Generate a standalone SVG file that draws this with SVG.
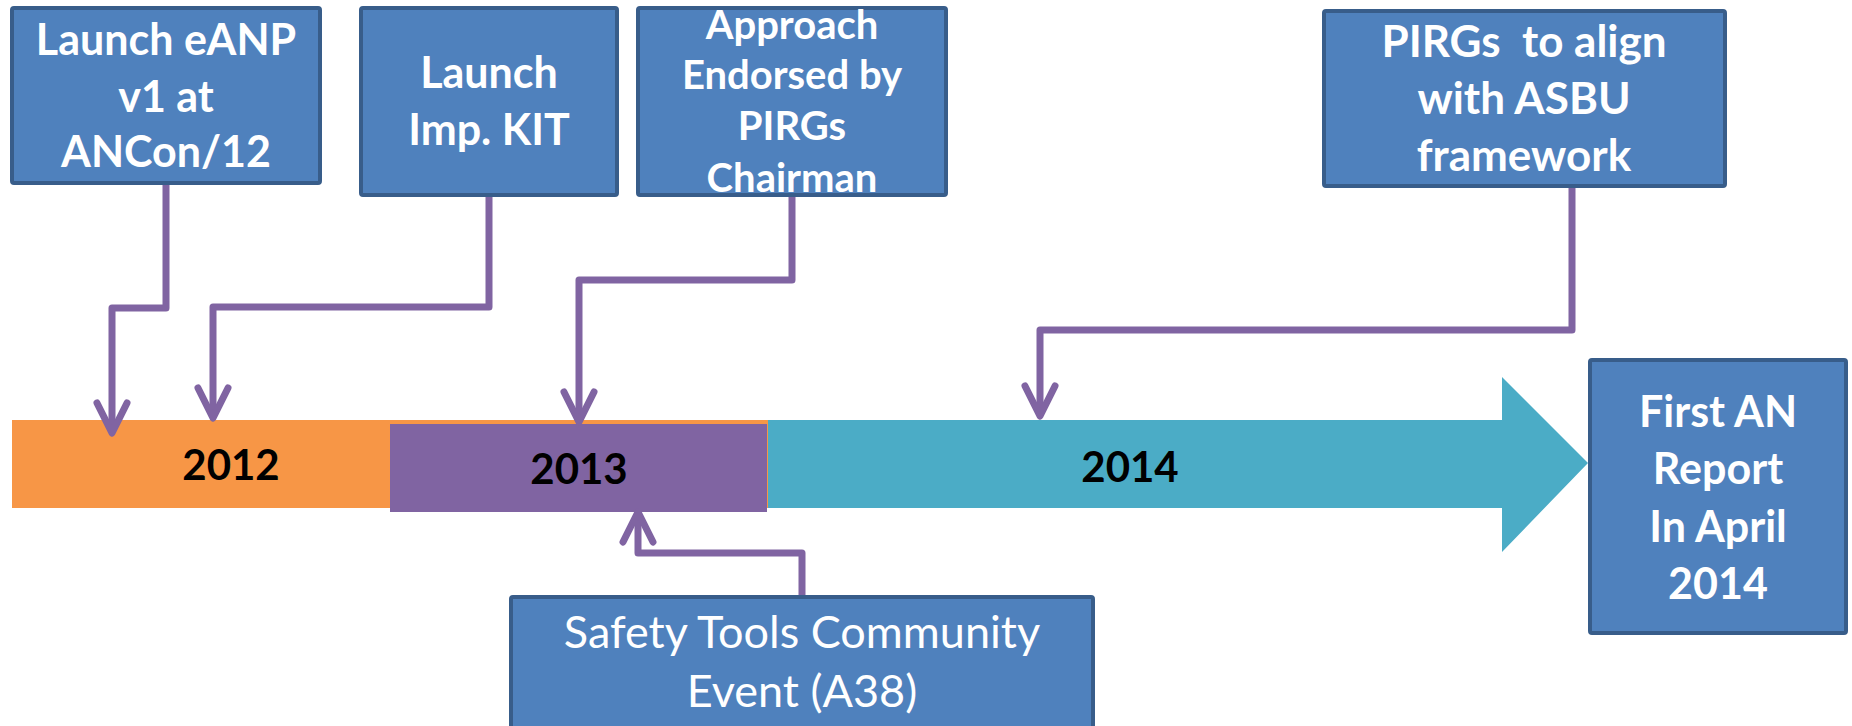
<svg xmlns="http://www.w3.org/2000/svg" width="1852" height="726" viewBox="0 0 1852 726">
<defs>
<style>
.box{fill:#4F81BD;stroke:#385D8A;stroke-width:4;}
.t{font-family:Lato,"Liberation Sans",sans-serif;font-weight:bold;fill:#FFFFFF;text-anchor:middle;font-size:43px;}
.tr{font-weight:normal;font-size:45px;}
.yr{font-family:Lato,"Liberation Sans",sans-serif;font-weight:bold;fill:#000000;text-anchor:middle;font-size:42px;}
.con{fill:none;stroke:#8064A2;stroke-width:7;stroke-linejoin:round;marker-end:url(#ah);}
</style>
<marker id="ah" markerUnits="userSpaceOnUse" markerWidth="60" markerHeight="60" viewBox="-40 -30 60 60" refX="0" refY="0" orient="auto" overflow="visible">
<path d="M-30,-15 L0,0 L-30,15" fill="none" stroke="#8064A2" stroke-width="7" stroke-linecap="round" stroke-linejoin="round"/>
</marker>
</defs>
<g id="timeline">
<rect x="12" y="420" width="757" height="88" fill="#F79646"/>
<rect x="390" y="424" width="377" height="88" fill="#8064A2"/>
<polygon points="768,420 1502,420 1502,377 1588,463 1502,552 1502,508 768,508" fill="#4BACC6"/>
<text class="yr" x="231" y="480">2012</text>
<text class="yr" x="579" y="484">2013</text>
<text class="yr" x="1130" y="482">2014</text>
</g>
<g id="connectors">
<path class="con" d="M166,185 V308 H112 V433"/>
<path class="con" d="M489,197 V307 H213 V418"/>
<path class="con" d="M792,197 V280 H579 V422"/>
<path class="con" d="M1572,188 V330 H1040 V416"/>
<path class="con" d="M802,595 V553 H638 V512"/>
</g>
<g id="n1">
<rect class="box" x="12" y="8" width="308" height="175" rx="2"/>
<text class="t" x="166" y="55">Launch eANP</text>
<text class="t" x="166" y="112">v1 at</text>
<text class="t" x="166" y="167">ANCon/12</text>
</g>
<g id="n2">
<rect class="box" x="361" y="8" width="256" height="187" rx="2"/>
<text class="t" x="489" y="88">Launch</text>
<text class="t" x="489" y="145">Imp. KIT</text>
</g>
<g id="n3">
<rect class="box" x="638" y="8" width="308" height="187" rx="2"/>
<text class="t" x="792" y="39" style="font-size:40px">Approach</text>
<text class="t" x="792" y="89" style="font-size:40px">Endorsed by</text>
<text class="t" x="792" y="140" style="font-size:40px">PIRGs</text>
<text class="t" x="792" y="192" style="font-size:40px">Chairman</text>
</g>
<g id="n4">
<rect class="box" x="1324" y="11" width="401" height="175" rx="2"/>
<text class="t" x="1524" y="57" xml:space="preserve" style="font-size:44px">PIRGs  to align</text>
<text class="t" x="1524" y="114" style="font-size:44px">with ASBU</text>
<text class="t" x="1524" y="171" style="font-size:44px">framework</text>
</g>
<g id="n5">
<rect class="box" x="1590" y="360" width="256" height="273" rx="2"/>
<text class="t" x="1718" y="427">First AN</text>
<text class="t" x="1718" y="484">Report</text>
<text class="t" x="1718" y="542">In April</text>
<text class="t" x="1718" y="599">2014</text>
</g>
<g id="n6">
<rect class="box" x="511" y="597" width="582" height="140" rx="2"/>
<text class="t tr" x="802" y="648">Safety Tools Community</text>
<text class="t tr" x="802" y="707">Event (A38)</text>
</g>
</svg>
